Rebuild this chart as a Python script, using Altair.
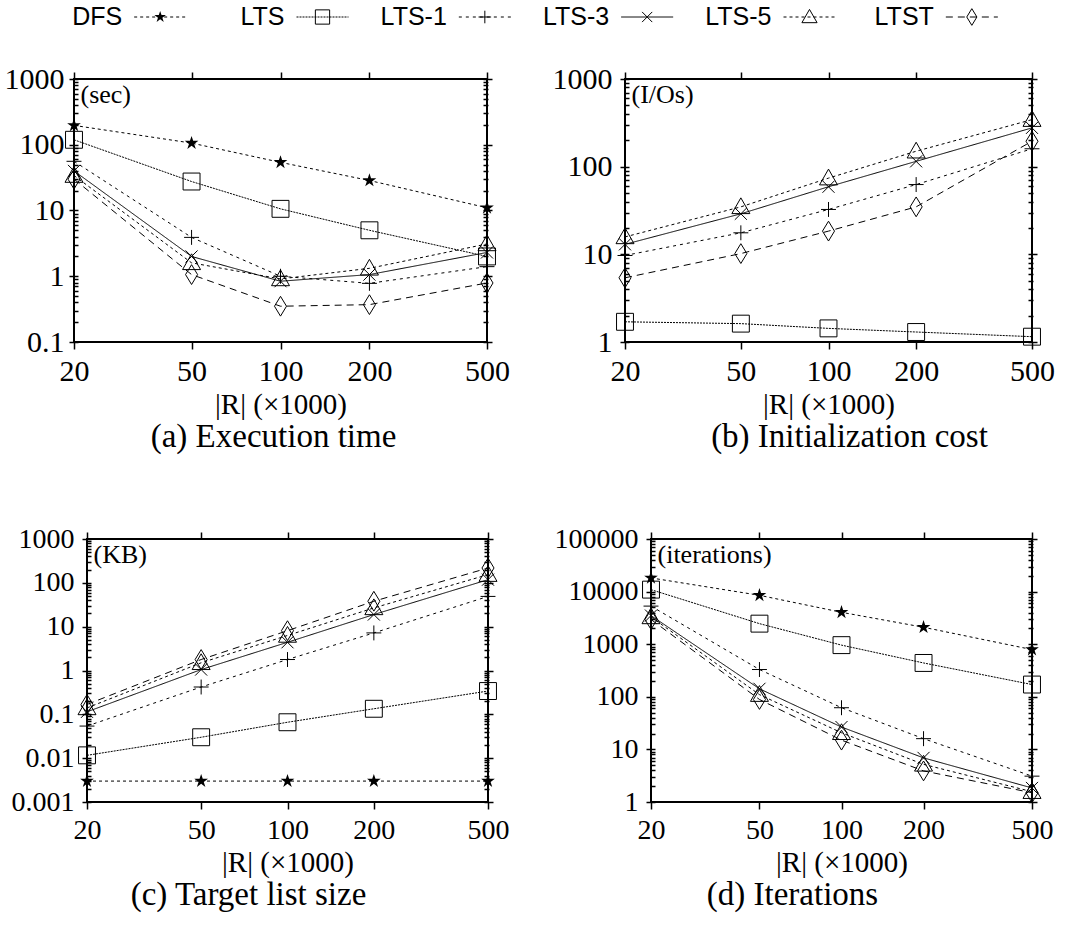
import altair as alt
import pandas as pd

series = ["DFS", "LTS", "LTS-1", "LTS-3", "LTS-5", "LTST"]
r_sizes = [20, 50, 100, 200, 500]

# (a) Execution time (sec)
time_dfs = [197, 106, 54, 28.6, 11]
time_lts = [119, 27.6, 10.6, 5.0, 2.0]
time_lts1 = [56, 3.9, 1.0, 0.78, 1.4]
time_lts3 = [40, 2.0, 0.84, 1.06, 2.3]
time_lts5 = [34, 1.6, 0.91, 1.32, 3.1]
time_ltst = [30, 1.06, 0.35, 0.37, 0.79]

# (b) Initialization cost (I/Os) -- no DFS curve
init_lts = [1.7, 1.62, 1.43, 1.3, 1.15]
init_lts1 = [9.7, 17.6, 32.5, 62.5, 160]
init_lts3 = [13, 29, 59, 115, 277]
init_lts5 = [15.8, 34.8, 74, 150, 344]
init_ltst = [5.4, 10.2, 18.4, 34.8, 195]

# (c) Target list size (KB)
size_dfs = [0.003, 0.003, 0.003, 0.003, 0.003]
size_lts = [0.0116, 0.030, 0.066, 0.134, 0.34]
size_lts1 = [0.054, 0.42, 1.78, 7.2, 49]
size_lts3 = [0.114, 1.05, 4.4, 18.9, 118]
size_lts5 = [0.14, 1.5, 6.3, 26.8, 154]
size_ltst = [0.168, 1.78, 8.1, 38, 218]

# (d) Iterations
iter_dfs = [18200, 8500, 4040, 2100, 790]
iter_lts = [10900, 2460, 960, 440, 171]
iter_lts1 = [5300, 330, 62, 16, 3.1]
iter_lts3 = [3500, 142, 26.6, 6.9, 1.85]
iter_lts5 = [3300, 110, 20.7, 5.2, 1.57]
iter_ltst = [2950, 89, 15, 3.9, 1.5]

dashes = [[3, 3], [2, 1], [3, 4], [1, 0], [3, 3], [7, 5]]
shape_paths = [
    "M0,-0.8L0.18,-0.25L0.76,-0.25L0.29,0.1L0.47,0.65L0,0.3L-0.47,0.65L-0.29,0.1L-0.76,-0.25L-0.18,-0.25Z",
    "M-0.94,-0.94L0.94,-0.94L0.94,0.94L-0.94,0.94Z",
    "M-0.83,0L0.83,0M0,-0.83L0,0.83",
    "M-0.67,-0.67L0.67,0.67M-0.67,0.67L0.67,-0.67",
    "M0,-1L1,0.75L-1,0.75Z",
    "M0,-1.1L0.67,0L0,1.1L-0.67,0Z",
]

SERIF = "Liberation Serif"
SANS = "Liberation Sans"


def frame(pairs):
    rows = []
    for name, vals in pairs:
        for xv, yv in zip(r_sizes, vals):
            rows.append({"series": name, "r": xv, "v": yv})
    return pd.DataFrame(rows)


def panel(df, decades, unit, width, caption, cap_dx, lab_pad, lab_size):
    ticks = sorted({round(d * k, 10) for d in decades[:-1] for k in range(1, 10)} | {decades[-1]})
    dec_js = "[" + ",".join(repr(d) for d in decades) + "]"
    major = f"indexof({dec_js}, datum.value) >= 0"
    tick_size = {"condition": {"test": major, "value": 9}, "value": 5}
    xscale = alt.Scale(type="log", domain=[20, 500], nice=False)
    yscale = alt.Scale(type="log", domain=[decades[0], decades[-1]], nice=False)

    left = alt.Axis(values=ticks, labelExpr=f"{major} ? toString(datum.value) : ''",
                    tickSize=tick_size, offset=-4, domain=False, grid=False,
                    tickColor="black", tickWidth=1.5, labelColor="black",
                    labelFont=SERIF, labelFontSize=lab_size, labelPadding=lab_pad,
                    labelOverlap=False, labelFlush=False,
                    title=unit, titleAngle=0, titleAlign="left", titleBaseline="top",
                    titleX=2, titleY=2, titleFont=SERIF, titleFontSize=26,
                    titleFontWeight="normal", titleColor="black")
    right = alt.Axis(values=ticks, labels=False, tickSize=tick_size, offset=-4,
                     domain=False, grid=False, tickColor="black", tickWidth=1.5,
                     orient="right", title="")
    bottom = alt.Axis(values=r_sizes, domain=False, grid=False, tickSize=7,
                      tickColor="black", tickWidth=1.5, labelColor="black",
                      labelFont=SERIF, labelFontSize=lab_size, labelPadding=7,
                      labelFlush=False, labelOverlap=False,
                      title="|R| (×1000)", titleFont=SERIF, titleFontSize=29,
                      titleFontWeight="normal", titleColor="black", titlePadding=4)
    top = alt.Axis(values=r_sizes, labels=False, domain=False, grid=False, tickSize=7,
                   tickColor="black", tickWidth=1.5, orient="top", title="")

    dash_enc = alt.StrokeDash("series:N", scale=alt.Scale(domain=series, range=dashes), legend=None)
    shape_enc = alt.Shape("series:N", scale=alt.Scale(domain=series, range=shape_paths), legend=None)

    base = alt.Chart(df)
    lines = base.mark_line(color="black", strokeWidth=1).encode(
        x=alt.X("r:Q", scale=xscale, axis=bottom),
        y=alt.Y("v:Q", scale=yscale, axis=left),
        strokeDash=dash_enc,
    )
    pts = base.transform_filter("datum.series != 'DFS'").mark_point(
        filled=False, color="black", strokeWidth=1, size=324, opacity=1).encode(
        x=alt.X("r:Q", scale=xscale, axis=top),
        y=alt.Y("v:Q", scale=yscale, axis=right),
        shape=shape_enc,
    )
    stars = base.transform_filter("datum.series == 'DFS'").mark_point(
        filled=True, color="black", size=324, opacity=1).encode(
        x=alt.X("r:Q", scale=xscale, axis=None),
        y=alt.Y("v:Q", scale=yscale, axis=None),
        shape=shape_enc,
    )
    return alt.layer(lines, pts, stars).resolve_axis(x="independent", y="independent").properties(
        width=width, height=263,
        view=alt.ViewBackground(stroke="black", strokeWidth=2),
        title=alt.TitleParams(caption, orient="bottom", font=SERIF, fontSize=33,
                              fontWeight="normal", color="black", dx=cap_dx, offset=2),
    )


df_a = frame([("DFS", time_dfs), ("LTS", time_lts), ("LTS-1", time_lts1),
              ("LTS-3", time_lts3), ("LTS-5", time_lts5), ("LTST", time_ltst)])
df_b = frame([("LTS", init_lts), ("LTS-1", init_lts1), ("LTS-3", init_lts3),
              ("LTS-5", init_lts5), ("LTST", init_ltst)])
df_c = frame([("DFS", size_dfs), ("LTS", size_lts), ("LTS-1", size_lts1),
              ("LTS-3", size_lts3), ("LTS-5", size_lts5), ("LTST", size_ltst)])
df_d = frame([("DFS", iter_dfs), ("LTS", iter_lts), ("LTS-1", iter_lts1),
              ("LTS-3", iter_lts3), ("LTS-5", iter_lts5), ("LTST", iter_ltst)])

pa = panel(df_a, [0.1, 1, 10, 100, 1000], "(sec)", 413, "(a) Execution time", -7, 5, 30)
pb = panel(df_b, [1, 10, 100, 1000], "(I/Os)", 407, "(b) Initialization cost", 21, 8, 30)
pc = panel(df_c, [0.001, 0.01, 0.1, 1, 10, 100, 1000], "(KB)", 401, "(c) Target list size", -39, 8, 28)
pd_ = panel(df_d, [1, 10, 100, 1000, 10000, 100000], "(iterations)", 381, "(d) Iterations", -49, 8, 28)

# custom key: label, then line sample with marker
leg_df = pd.DataFrame({"series": series})
lx = alt.X("series:N", sort=series, scale=alt.Scale(domain=series, range=[5, 979]), axis=None)
leg_base = alt.Chart(leg_df).encode(x=lx, y=alt.value(16))
leg_text = leg_base.mark_text(align="right", baseline="middle", dx=-38, font=SANS,
                              fontSize=25, color="black").encode(text="series:N")
leg_line = leg_base.mark_rule(color="black", strokeWidth=1, xOffset=-26, x2Offset=26).encode(
    x2=alt.X2("series:N"),
    strokeDash=alt.StrokeDash("series:N", scale=alt.Scale(domain=series, range=dashes), legend=None),
)
leg_pts = leg_base.transform_filter("datum.series != 'DFS'").mark_point(
    filled=False, color="black", strokeWidth=1, size=230, opacity=1).encode(
    shape=alt.Shape("series:N", scale=alt.Scale(domain=series, range=shape_paths), legend=None))
leg_star = leg_base.transform_filter("datum.series == 'DFS'").mark_point(
    filled=True, color="black", size=230, opacity=1).encode(
    shape=alt.Shape("series:N", scale=alt.Scale(domain=series, range=shape_paths), legend=None))
legend = alt.layer(leg_text, leg_line, leg_pts, leg_star).properties(
    width=985, height=34, view=alt.ViewBackground(stroke="transparent"))

# small blank cell that shifts the lower row to the right
spacer = alt.Chart(pd.DataFrame({"s": [0]})).mark_point(opacity=0).encode(
    x=alt.value(0), y=alt.value(0)).properties(
    width=13, height=10, view=alt.ViewBackground(stroke="transparent"))

row1 = alt.hconcat(pa, pb, spacing=138, bounds="flush")
row2 = alt.hconcat(spacer, alt.hconcat(pc, pd_, spacing=163, bounds="flush"),
                   spacing=0, bounds="flush")
body = alt.concat(row1, row2, columns=1, spacing=69, align="none")

chart = alt.concat(legend, body, columns=1, spacing=27, align="none").properties(
    padding={"left": 3, "top": 0, "right": 0, "bottom": 0},
    background="white",
)

chart.save("out.html", embed_options={"renderer": "svg", "actions": False})
